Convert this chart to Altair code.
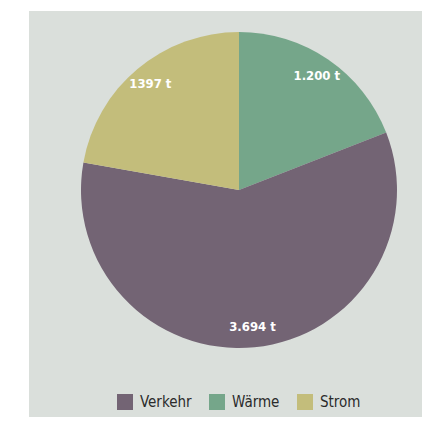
import altair as alt
import pandas as pd

categories = ["Wärme", "Verkehr", "Strom"]
values = [1200, 3694, 1397]
labels = ["1.200 t", "3.694 t", "1397 t"]
order = [1, 2, 3]

legend_order = ["Verkehr", "Wärme", "Strom"]
colors = ["#736474", "#75a68a", "#c3bd7b"]

df = pd.DataFrame({"cat": categories, "val": values, "label": labels, "ord": order})

FONT = "DejaVu Sans Condensed"

base = alt.Chart(df).encode(
    theta=alt.Theta("val:Q", stack=True),
    order=alt.Order("ord:Q"),
    x=alt.value(210),
    y=alt.value(179),
)

arcs = base.mark_arc(outerRadius=158).encode(
    color=alt.Color(
        "cat:N",
        scale=alt.Scale(domain=legend_order, range=colors),
        legend=alt.Legend(
            title=None,
            orient="none",
            legendX=88,
            legendY=383,
            direction="horizontal",
            symbolType="square",
            symbolSize=256,
            symbolStrokeWidth=0,
            symbolOpacity=1,
            labelFont=FONT,
            labelFontSize=15,
            labelColor="#2b2b2b",
            labelOffset=7,
            columnPadding=17,
            padding=0,
        ),
    )
)

text = base.mark_text(
    radius=138,
    font=FONT,
    fontSize=13,
    fontWeight="bold",
    color="white",
).encode(text="label:N")

chart = (
    (arcs + text)
    .properties(
        width=393,
        height=406,
        padding={"left": 21, "top": 3, "right": 0, "bottom": 0},
        autosize=alt.AutoSizeParams(type="none"),
    )
    .configure_view(fill="#dadfdb", strokeWidth=0)
)

chart.save("out.html", embed_options={"renderer": "svg", "actions": False})
